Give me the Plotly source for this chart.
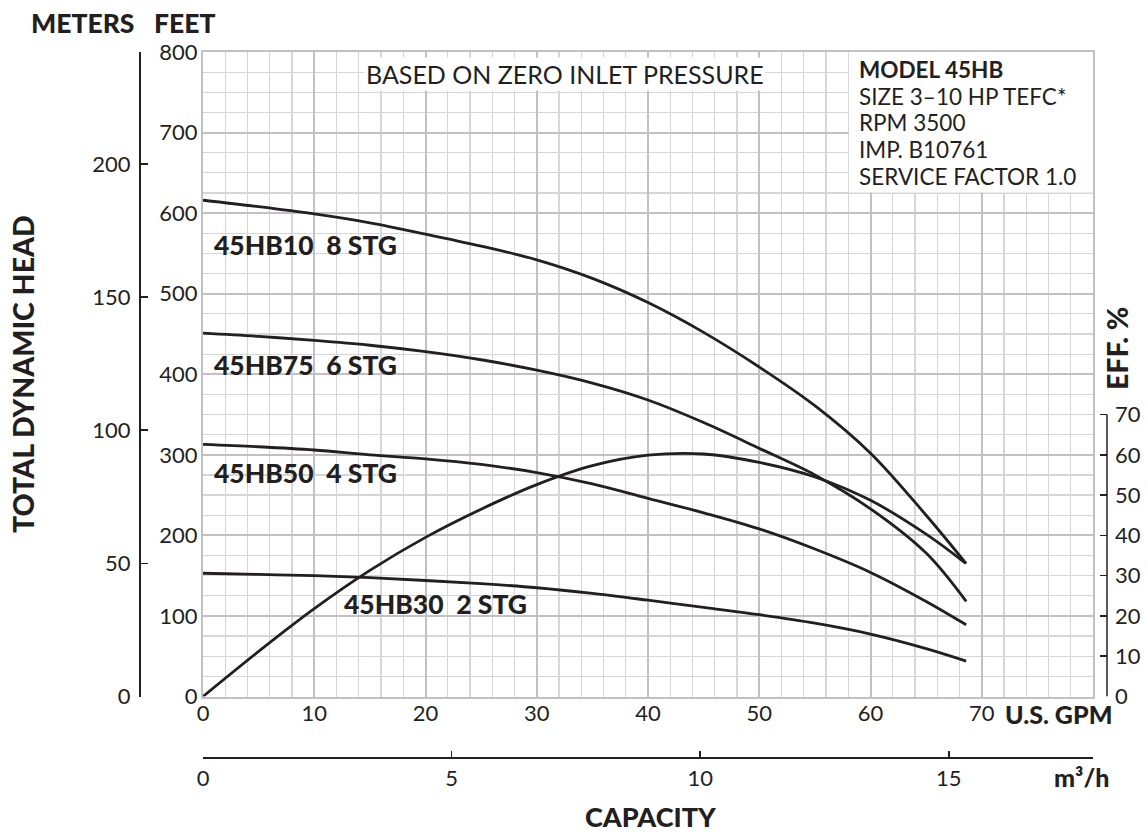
import plotly.graph_objects as go

# ---------------- data ----------------
gpm_ticks = [0, 10, 20, 30, 40, 50, 60, 70]
feet_ticks = [0, 100, 200, 300, 400, 500, 600, 700, 800]
meter_ticks = [0, 50, 100, 150, 200]
m3h_ticks = [0, 5, 10, 15]
eff_ticks = [0, 10, 20, 30, 40, 50, 60, 70]

head_gpm = [0, 5, 10, 15, 20, 25, 30, 35, 40, 45, 50, 55, 60, 65, 68.6]
hb10_ft = [616, 608, 599, 588, 574, 559, 542, 519, 489, 452, 409, 361, 302, 225, 165]
hb75_ft = [451, 447, 442, 436, 428, 418, 405, 389, 368, 340, 308, 275, 233, 178, 118]
hb50_ft = [313, 310, 306, 300, 295, 288, 278, 264, 246, 228, 208, 183, 154, 118, 89]
hb30_ft = [153, 151.5, 150, 147.5, 144, 140, 135, 128, 119.5, 110.5, 101.5, 91, 77.5, 59.5, 44]

eff_gpm = [0, 5, 10, 15, 20, 25, 30, 35, 40, 45, 50, 55, 60, 65, 68.5]
eff_pct = [0, 11.2, 21.8, 31.3, 39.5, 46.5, 52.6, 57.3, 59.9, 60.2, 58.1, 54.5, 48.7, 40.3, 33.2]

curves = [
    ("45HB10\u00a0\u00a08 STG", head_gpm, hb10_ft),
    ("45HB75\u00a0\u00a06 STG", head_gpm, hb75_ft),
    ("45HB50\u00a0\u00a04 STG", head_gpm, hb50_ft),
    ("45HB30\u00a0\u00a02 STG", head_gpm, hb30_ft),
]

# ---------------- styling ----------------
INK = "#231f20"
GRID_MAJ = "#c1c1c5"
GRID_MIN = "#d6d6da"
FONT = "Lato"

W, H = 1147, 832
L = 139                      # meters axis line
T = 52                       # top of plot
R = W - 1107                 # efficiency axis line
B = H - 757                  # m3/h axis line
PW, PH = W - L - R, H - T - B


def px_x(px):
    return (px - L) / PW


def px_y(py):
    return (H - B - py) / PH


fig = go.Figure()

for name, xs, ys in curves:
    fig.add_trace(go.Scatter(
        x=xs, y=ys, mode="lines", name=name,
        line=dict(color=INK, width=2.8, shape="spline", smoothing=1.0),
        hoverinfo="skip", showlegend=False, xaxis="x", yaxis="y"))

fig.add_trace(go.Scatter(
    x=eff_gpm, y=eff_pct, mode="lines", name="EFF",
    line=dict(color=INK, width=2.8, shape="spline", smoothing=1.0),
    hoverinfo="skip", showlegend=False, xaxis="x", yaxis="y3"))

# invisible carriers so that the secondary axes get drawn
fig.add_trace(go.Scatter(x=[gpm_ticks[0]], y=[meter_ticks[0]], mode="markers",
                         marker=dict(opacity=0), hoverinfo="skip", showlegend=False,
                         xaxis="x", yaxis="y2"))
fig.add_trace(go.Scatter(x=[m3h_ticks[0]], y=[feet_ticks[0]], mode="markers",
                         marker=dict(opacity=0), hoverinfo="skip", showlegend=False,
                         xaxis="x2", yaxis="y"))

tickfont = dict(family=FONT, size=22, color=INK)

fig.update_layout(
    width=W, height=H, autosize=False,
    margin=dict(l=L, r=R, t=T, b=B, pad=0, autoexpand=False),
    paper_bgcolor="white", plot_bgcolor="white",
    font=dict(family=FONT, color=INK),
    showlegend=False,
    hovermode=False,
    xaxis=dict(
        domain=[px_x(203), px_x(1093)], range=[0, 80],
        tickvals=gpm_ticks, ticktext=[str(v) for v in gpm_ticks],
        tickfont=tickfont, ticks="", ticklabelstandoff=-4,
        showgrid=True, gridcolor=GRID_MAJ, gridwidth=2,
        minor=dict(dtick=2, tick0=0, showgrid=True, gridcolor=GRID_MIN, gridwidth=1.2),
        showline=True, linecolor=GRID_MAJ, linewidth=2, mirror=True,
        zeroline=False, anchor="y", fixedrange=True, automargin=False,
    ),
    yaxis=dict(
        domain=[px_y(696.5), 1], range=[0, 800],
        tickvals=feet_ticks, ticktext=[str(v) for v in feet_ticks],
        tickfont=tickfont, ticks="", ticklabelstandoff=-1,
        showgrid=True, gridcolor=GRID_MAJ, gridwidth=2,
        minor=dict(dtick=25, tick0=0, showgrid=True, gridcolor=GRID_MIN, gridwidth=1.2),
        showline=True, linecolor=GRID_MAJ, linewidth=2, mirror=True,
        zeroline=False, anchor="x", fixedrange=True, automargin=False,
    ),
    yaxis2=dict(
        overlaying="y", anchor="free", position=0, side="left",
        range=[0, 242], tickvals=meter_ticks, ticktext=[str(v) for v in meter_ticks],
        tickfont=tickfont, ticks="inside", ticklen=7, tickwidth=1.5, tickcolor=INK,
        ticklabelstandoff=4,
        showline=True, linecolor=INK, linewidth=1.5,
        showgrid=False, zeroline=False, fixedrange=True, automargin=False,
    ),
    yaxis3=dict(
        overlaying="y", anchor="free", position=1, side="right",
        range=[0, 160], tickvals=eff_ticks, ticktext=[str(v) for v in eff_ticks],
        tickfont=tickfont, ticks="inside", ticklen=7, tickwidth=1.5, tickcolor=INK,
        ticklabelstandoff=7,
        showline=False, showgrid=False, zeroline=False, fixedrange=True, automargin=False,
    ),
    xaxis2=dict(
        overlaying="x", anchor="free", position=0, side="bottom",
        range=[0, 17.9], tickvals=m3h_ticks, ticktext=[str(v) for v in m3h_ticks],
        tickfont=tickfont, ticks="inside", ticklen=6, tickwidth=1.5, tickcolor=INK,
        ticklabelstandoff=1,
        showline=True, linecolor=INK, linewidth=1.5,
        showgrid=False, zeroline=False, fixedrange=True, automargin=False,
    ),
)

# white info box over the grid (top right)
fig.add_shape(type="rect", xref="x", yref="y", x0=58.06, x1=80, y0=625.6, y1=800,
              fillcolor="white", line=dict(width=0), layer="between")

# efficiency axis line (only 0..70 %)
fig.add_shape(type="line", xref="paper", yref="y3", x0=1, x1=1, y0=0, y1=70,
              line=dict(color=INK, width=1.5), layer="above")

ann = []


def bold(size):
    return dict(family=FONT, size=size, color=INK, weight=900)


# curve labels
label_pos = [(0.8, 561), (0.8, 411), (0.8, 278), (12.5, 115)]
for (name, _, _), (lx, ly) in zip(curves, label_pos):
    ann.append(dict(x=lx, y=ly, xref="x", yref="y", text=name, showarrow=False,
                    xanchor="left", yanchor="middle", font=bold(26.5)))

# top note
ann.append(dict(x=32.5, y=773, xref="x", yref="y", text="BASED ON ZERO INLET PRESSURE",
                showarrow=False, xanchor="center", yanchor="middle", bgcolor="white",
                font=dict(family=FONT, size=25, color=INK)))

# model box text
box_lines = [("<b>MODEL 45HB</b>", 778.6), ("SIZE 3–10 HP TEFC*", 744.6), ("RPM 3500", 712.3),
             ("IMP. B10761", 678.5), ("SERVICE FACTOR 1.0", 645.4)]
for txt, yv in box_lines:
    ann.append(dict(x=58.75, y=yv, xref="x", yref="y", text=txt, showarrow=False,
                    xanchor="left", yanchor="middle",
                    font=dict(family=FONT, size=22.5, color=INK)))

# axis titles
ann.append(dict(x=px_x(29), y=px_y(23), xref="paper", yref="paper", text="METERS",
                showarrow=False, xanchor="left", yanchor="middle", font=bold(26.5)))
ann.append(dict(x=px_x(152), y=px_y(23), xref="paper", yref="paper", text="FEET",
                showarrow=False, xanchor="left", yanchor="middle", font=bold(26.5)))
ann.append(dict(x=px_x(23), y=px_y(374), xref="paper", yref="paper", text="TOTAL DYNAMIC HEAD",
                showarrow=False, xanchor="center", yanchor="middle", textangle=-90, font=bold(28.5)))
ann.append(dict(x=px_x(651), y=px_y(816), xref="paper", yref="paper", text="CAPACITY",
                showarrow=False, xanchor="center", yanchor="middle", font=bold(27)))
ann.append(dict(x=px_x(1003), y=px_y(714), xref="paper", yref="paper", text="U.S. GPM",
                showarrow=False, xanchor="left", yanchor="middle", font=bold(25)))
ann.append(dict(x=px_x(1111), y=px_y(777), xref="paper", yref="paper", text="m³/h",
                showarrow=False, xanchor="right", yanchor="middle", font=bold(25)))
ann.append(dict(x=px_x(1117), y=px_y(349), xref="paper", yref="paper", text="EFF. %",
                showarrow=False, xanchor="center", yanchor="middle", textangle=-90, font=bold(28.5)))

fig.update_layout(annotations=ann)

fig.write_html(
    "out.html",
    config={"displayModeBar": False, "staticPlot": True, "responsive": False},
    post_script="document.body.style.margin='0';document.body.style.overflow='hidden';",
)
